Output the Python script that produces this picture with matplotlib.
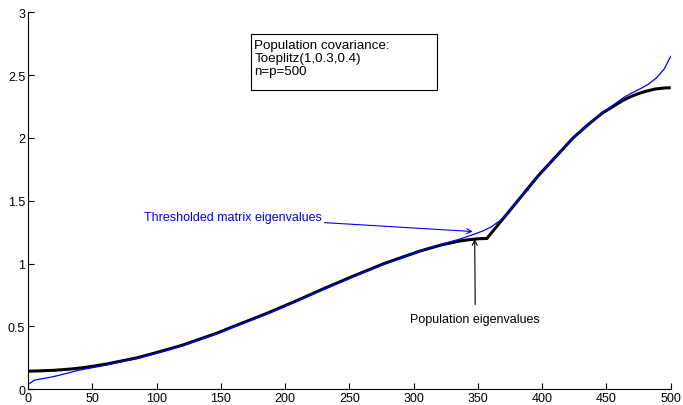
import matplotlib
matplotlib.use("Agg")
import matplotlib.pyplot as plt
from matplotlib.patches import Rectangle

plt.rcParams['font.family'] = ['Liberation Sans', 'DejaVu Sans']

# population eigenvalues
pop_x = [0, 4, 20, 33, 42, 49, 61, 85, 103, 120, 134, 148, 160, 185, 208,
         230, 253, 277, 305, 322, 336, 343, 351, 357, 365, 373, 381, 389,
         397, 406, 415, 424, 435, 447, 455, 463, 469, 474, 480, 484, 488,
         495, 500]
pop_y = [0.144, 0.144, 0.15, 0.16, 0.17, 0.18, 0.20, 0.25, 0.30, 0.35, 0.40,
         0.45, 0.50, 0.60, 0.70, 0.80, 0.90, 1.00, 1.10, 1.15, 1.18, 1.19,
         1.198, 1.20, 1.30, 1.40, 1.50, 1.60, 1.70, 1.80, 1.90, 2.00, 2.10,
         2.20, 2.25, 2.30, 2.33, 2.35, 2.37, 2.38, 2.39, 2.398, 2.40]

# thresholded matrix eigenvalues
thr_x = [0, 2, 5, 20, 40, 60, 85, 103, 120, 134, 148, 160, 185, 208, 230,
         253, 277, 305, 322, 336, 346, 354, 360, 367, 373, 381, 389, 397,
         406, 415, 424, 435, 447, 455, 463, 470, 476, 483, 489, 495, 500]
thr_y = [0.04, 0.05, 0.072, 0.10, 0.152, 0.19, 0.245, 0.295, 0.345, 0.395,
         0.445, 0.495, 0.595, 0.695, 0.795, 0.895, 0.995, 1.10, 1.155, 1.195,
         1.23, 1.26, 1.29, 1.34, 1.40, 1.50, 1.60, 1.70, 1.80, 1.90, 2.00,
         2.10, 2.20, 2.26, 2.32, 2.36, 2.39, 2.43, 2.48, 2.55, 2.65]

x_ticks = [0, 50, 100, 150, 200, 250, 300, 350, 400, 450, 500]
y_ticks = [0, 0.5, 1, 1.5, 2, 2.5, 3]
y_labels = ['0', '0.5', '1', '1.5', '2', '2.5', '3']

fig = plt.figure(figsize=(6.83, 4.06), dpi=100)
ax = fig.add_axes([0.041, 0.039, 0.941, 0.928])

ax.plot(pop_x, pop_y, color='black', lw=2.2, solid_capstyle='butt')
ax.plot(thr_x, thr_y, color='blue', lw=0.9)

ax.set_xlim(0, 500)
ax.set_ylim(0, 3)
ax.set_xticks(x_ticks)
ax.set_xticklabels([str(t) for t in x_ticks])
ax.set_yticks(y_ticks)
ax.set_yticklabels(y_labels)
ax.tick_params(direction='in', length=4, width=0.8, labelsize=9, pad=2)
ax.spines['top'].set_visible(False)
ax.spines['right'].set_visible(False)

# info box
ax.add_patch(Rectangle((173.4, 2.386), 144.6, 0.439, fill=False,
                       edgecolor='black', lw=0.8))
ax.text(176, 2.79, "Population covariance:\nToeplitz(1,0.3,0.4)\nn=p=500",
        fontsize=9.6, va='top', ha='left', linespacing=1.1)

ax.annotate("Thresholded matrix eigenvalues", xy=(346, 1.255),
            xytext=(228.5, 1.37), color='blue', fontsize=9,
            ha='right', va='center',
            arrowprops=dict(arrowstyle='->', color='blue', lw=0.8,
                            shrinkA=0, shrinkB=0))
ax.annotate("Population eigenvalues", xy=(347.5, 1.195),
            xytext=(348, 0.56), color='black', fontsize=9,
            ha='center', va='center',
            arrowprops=dict(arrowstyle='->', color='black', lw=0.8,
                            shrinkA=4, shrinkB=0))

fig.savefig("out.png", dpi=100)
